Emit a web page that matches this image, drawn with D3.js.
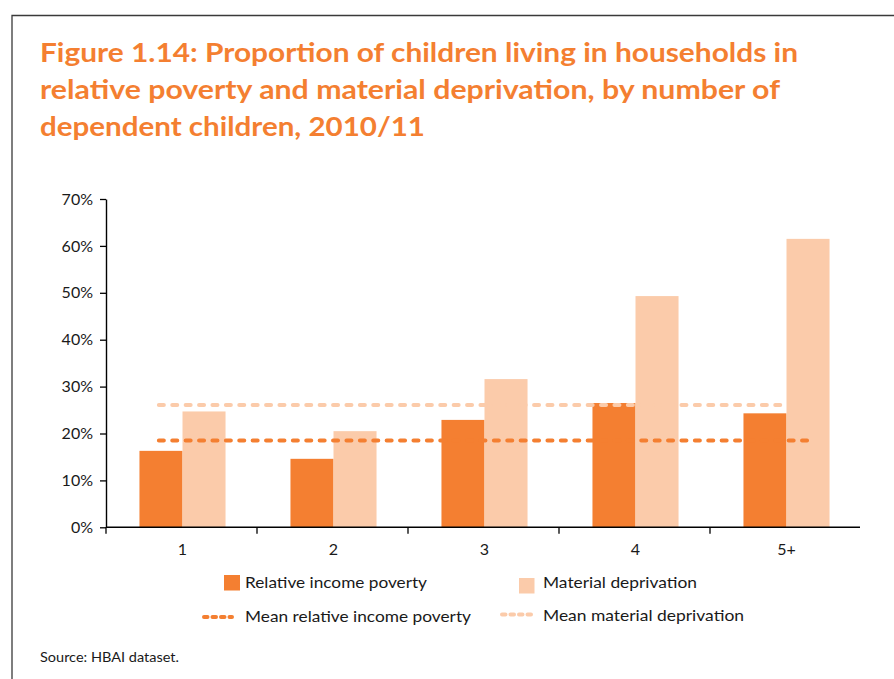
<!DOCTYPE html>
<html>
<head>
<meta charset="utf-8">
<script src="https://cdn.jsdelivr.net/npm/d3@7"></script>
<style>
  html, body { margin: 0; padding: 0; background: #fff; }
  svg { display: block; }
  text { font-family: Lato, "Open Sans", sans-serif; }
</style>
</head>
<body>
<svg id="chart" width="894" height="679"></svg>
<script>
// Number of dependent children in the household
const categories = ["1", "2", "3", "4", "5+"];
// Percentage of children in relative income poverty
const povertyValues = [16.3, 14.6, 22.9, 26.5, 24.3];
// Percentage of children in material deprivation
const deprivationValues = [24.7, 20.5, 31.6, 49.3, 61.5];
// Averages across all households
const meanPoverty = 18.5;
const meanDeprivation = 26.1;
// Y axis tick values (percent)
const yTicks = [0, 10, 20, 30, 40, 50, 60, 70];

const titleLines = [
  "Figure 1.14: Proportion of children living in households in",
  "relative poverty and material deprivation, by number of",
  "dependent children, 2010/11"
];
const legendLabels = {
  poverty: "Relative income poverty",
  deprivation: "Material deprivation",
  meanPoverty: "Mean relative income poverty",
  meanDeprivation: "Mean material deprivation"
};
const sourceText = "Source: HBAI dataset.";

const DARK = "#F47F31";
const LIGHT = "#FBCBAA";
const TEXT = "#1a1a1a";

const svg = d3.select("#chart");

// Frame: left and top rules
svg.append("path")
  .attr("d", "M12,679 V15.5 H894")
  .attr("fill", "none")
  .attr("stroke", "#3a3a3a")
  .attr("stroke-width", 1.3);

function fit(sel, w) {
  sel.attr("textLength", w).attr("lengthAdjust", "spacingAndGlyphs");
}

// Title
const titleWidths = [758, 740, 385];
titleLines.forEach((line, i) => {
  svg.append("text")
    .attr("x", 40)
    .attr("y", 62 + i * 37)
    .attr("fill", DARK)
    .attr("font-size", 27)
    .attr("font-weight", 700)
    .text(line)
    .call(fit, titleWidths[i]);
});

// Scales
const x = d3.scaleBand().domain(categories).range([106, 861]).padding(0);
const y = d3.scaleLinear().domain([0, 70]).range([527.3, 199]);
const half = x.bandwidth() * 0.285;
const cx = c => x(c) + x.bandwidth() / 2 + 1;

// Bars
const plot = svg.append("g");
plot.selectAll("rect.poverty")
  .data(categories)
  .join("rect")
  .attr("class", "poverty")
  .attr("x", c => cx(c) - half)
  .attr("width", half)
  .attr("y", (c, i) => y(povertyValues[i]))
  .attr("height", (c, i) => y(0) - y(povertyValues[i]))
  .attr("fill", DARK);

plot.selectAll("rect.deprivation")
  .data(categories)
  .join("rect")
  .attr("class", "deprivation")
  .attr("x", c => cx(c))
  .attr("width", half)
  .attr("y", (c, i) => y(deprivationValues[i]))
  .attr("height", (c, i) => y(0) - y(deprivationValues[i]))
  .attr("fill", LIGHT);

// Mean reference lines
const first = categories[0], last = categories[categories.length - 1];
const dash = "5,8.4";
plot.append("line")
  .attr("x1", x(first) + x.bandwidth() * 0.35)
  .attr("x2", x(last) + x.bandwidth() * 0.485)
  .attr("y1", y(meanDeprivation)).attr("y2", y(meanDeprivation))
  .attr("stroke", LIGHT).attr("stroke-width", 4)
  .attr("stroke-linecap", "round").attr("stroke-dasharray", dash);
plot.append("line")
  .attr("x1", x(first) + x.bandwidth() * 0.35)
  .attr("x2", x(last) + x.bandwidth() * 0.65)
  .attr("y1", y(meanPoverty)).attr("y2", y(meanPoverty))
  .attr("stroke", DARK).attr("stroke-width", 4)
  .attr("stroke-linecap", "round").attr("stroke-dasharray", dash);

// Y axis
const yAxis = svg.append("g")
  .attr("transform", "translate(106,0)")
  .call(d3.axisLeft(y).tickValues(yTicks).tickFormat(d => d + "%").tickSize(6).tickSizeOuter(0));
yAxis.select(".domain").attr("stroke", "#000").attr("stroke-width", 1.4);
yAxis.selectAll(".tick line").attr("stroke", "#000").attr("stroke-width", 1.3);
yAxis.selectAll(".tick text")
  .attr("x", -13)
  .attr("fill", TEXT)
  .attr("font-size", 16)
  .attr("font-family", "Lato, sans-serif");

// X axis: baseline, boundary ticks, centred labels
const xAxis = svg.append("g");
xAxis.append("line")
  .attr("x1", 106).attr("x2", x.range()[1] - 1)
  .attr("y1", y(0)).attr("y2", y(0))
  .attr("stroke", "#000").attr("stroke-width", 1.4);
xAxis.selectAll("line.tick")
  .data(categories)
  .join("line")
  .attr("class", "tick")
  .attr("x1", c => x(c)).attr("x2", c => x(c))
  .attr("y1", y(0)).attr("y2", y(0) + 6.5)
  .attr("stroke", "#000").attr("stroke-width", 1.3);
xAxis.selectAll("text")
  .data(categories)
  .join("text")
  .attr("x", c => cx(c))
  .attr("y", y(0) + 27.5)
  .attr("text-anchor", "middle")
  .attr("fill", TEXT)
  .attr("font-size", 16)
  .text(c => c);

// Legend
const legend = svg.append("g");
legend.append("rect").attr("x", 224).attr("y", 575).attr("width", 16).attr("height", 15.5).attr("fill", DARK);
legend.append("rect").attr("x", 519).attr("y", 578).attr("width", 15.5).attr("height", 15.5).attr("fill", LIGHT);
legend.append("line")
  .attr("x1", 204).attr("x2", 232).attr("y1", 617).attr("y2", 617)
  .attr("stroke", DARK).attr("stroke-width", 4)
  .attr("stroke-linecap", "round").attr("stroke-dasharray", "3.5,5");
legend.append("line")
  .attr("x1", 502).attr("x2", 534).attr("y1", 614.5).attr("y2", 614.5)
  .attr("stroke", LIGHT).attr("stroke-width", 4)
  .attr("stroke-linecap", "round").attr("stroke-dasharray", "3.5,5");

const legendItems = [
  { x: 245, y: 588, w: 182, t: legendLabels.poverty },
  { x: 543, y: 588, w: 154, t: legendLabels.deprivation },
  { x: 245, y: 622, w: 226, t: legendLabels.meanPoverty },
  { x: 543, y: 621, w: 201, t: legendLabels.meanDeprivation }
];
legendItems.forEach(d => {
  legend.append("text")
    .attr("x", d.x).attr("y", d.y)
    .attr("fill", TEXT)
    .attr("font-size", 16)
    .text(d.t)
    .call(fit, d.w);
});

// Source note
svg.append("text")
  .attr("x", 40).attr("y", 662)
  .attr("fill", TEXT)
  .attr("font-size", 12.5)
  .text(sourceText)
  .call(fit, 139);
</script>
</body>
</html>
